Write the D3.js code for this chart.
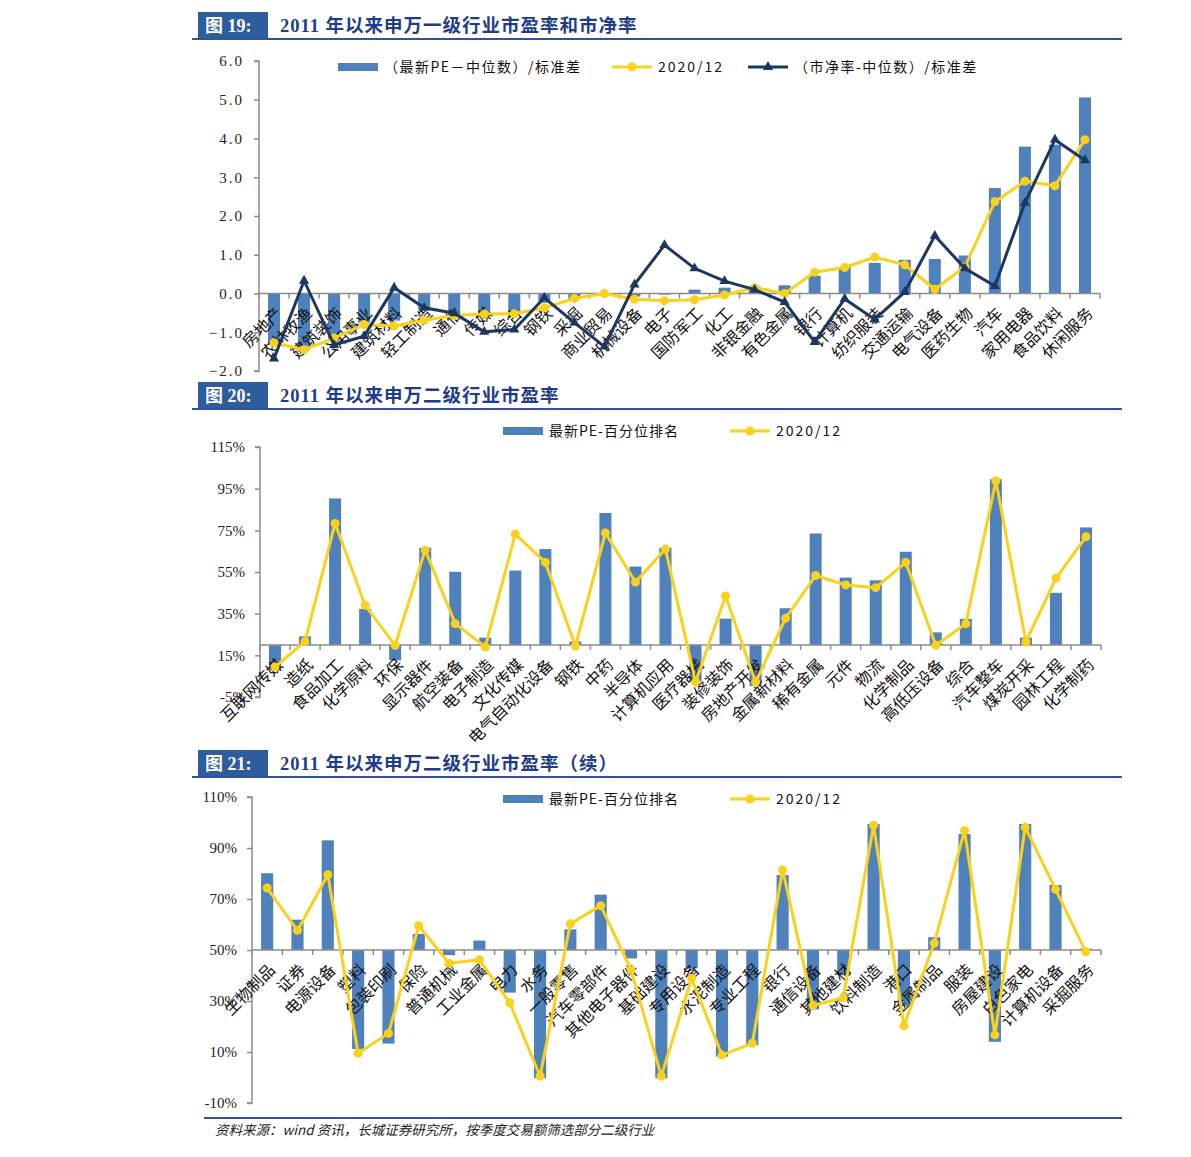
<!DOCTYPE html>
<html><head><meta charset="utf-8">
<script src="https://cdn.jsdelivr.net/npm/d3@7"></script>
<style>
body{margin:0;background:#fff;}
svg{display:block;}
</style></head>
<body>
<svg id="c" width="1191" height="1157"></svg>
<script>
// ---------- DATA ----------
const cat1 = ["房地产","农林牧渔","建筑装饰","公用事业","建筑材料","轻工制造","通信","传媒","综合","钢铁","采掘","商业贸易","机械设备","电子","国防军工","化工","非银金融","有色金属","银行","计算机","纺织服装","交通运输","电气设备","医药生物","汽车","家用电器","食品饮料","休闲服务"];
const pe1 = [-1.33,-1.36,-1.22,-0.75,-0.70,-0.42,-0.55,-0.58,-0.50,-0.24,-0.14,-0.05,-0.08,-0.03,0.10,0.15,0.18,0.21,0.46,0.68,0.79,0.87,0.89,0.98,2.72,3.79,3.84,5.06];
const pe1_2020 = [-1.27,-1.45,-1.15,-0.80,-0.84,-0.69,-0.57,-0.53,-0.52,-0.37,-0.13,0.00,-0.15,-0.19,-0.16,-0.04,0.15,0.00,0.55,0.67,0.94,0.74,0.11,0.69,2.37,2.90,2.78,3.97];
const pb1 = [-1.68,0.33,-1.33,-1.10,0.15,-0.37,-0.51,-0.99,-0.93,-0.11,-0.75,-1.37,0.23,1.25,0.65,0.32,0.10,-0.22,-1.25,-0.14,-0.67,0.04,1.49,0.65,0.19,2.34,3.97,3.44];
const ticks1 = [-2,-1,0,1,2,3,4,5,6];

const cat2 = ["互联网传媒","造纸","食品加工","化学原料","环保","显示器件","航空装备","电子制造","文化传媒","电气自动化设备","钢铁","中药","半导体","计算机应用","医疗器械","装修装饰","房地产开发","金属新材料","稀有金属","元件","物流","化学制品","高低压设备","综合","汽车整车","煤炭开采","园林工程","化学制药"];
const pct2 = [7.8,24.1,90.3,37.3,12.6,66.6,55.1,23.5,55.7,66.0,21.6,83.3,57.6,66.6,2.5,32.6,0.3,37.6,73.5,52.3,51.0,64.7,26.0,32.5,99.5,23.5,45.0,76.4];
const pct2_2020 = [9.4,21.7,78.3,39.0,19.8,65.5,30.2,19.0,73.2,59.6,19.5,73.7,50.2,66.0,2.2,43.5,2.2,32.8,53.3,48.8,47.5,59.6,19.8,30.2,98.8,21.4,52.0,71.9];
const ticks2 = [-5,15,35,55,75,95,115];

const cat3 = ["生物制品","证券","电源设备","塑料","包装印刷","保险","普通机械","工业金属","电力","水务","一般零售","汽车零部件","其他电子器件","基础建设","专用设备","水泥制造","专业工程","银行","通信设备","其他建材","饮料制造","港口","金属制品","服装","房屋建设","白色家电","计算机设备","采掘服务"];
const pct3 = [80.1,61.9,93.0,11.2,13.3,56.3,48.0,53.7,33.3,-0.3,58.1,71.7,46.7,-0.3,42.8,8.2,12.7,79.4,26.7,40.2,99.4,28.0,55.0,95.5,14.0,99.4,75.5,50.5];
const pct3_2020 = [74.3,57.7,79.5,9.5,17.3,59.5,44.8,46.1,29.3,0.6,60.3,67.4,42.2,0.6,38.9,8.8,13.4,81.4,28.2,31.3,98.9,20.3,52.6,96.8,16.7,98.1,73.8,49.3];
const ticks3 = [-10,10,30,50,70,90,110];

// ---------- STYLE ----------
const BLUE = "#4F81BD", YEL = "#FAD11B", NAVY = "#1B3762", AX = "#8C8C8C", HEAD = "#2E5D9E", TITLE = "#1F3C88";
const LAT = "'Liberation Serif','Noto Sans CJK SC',serif";
const CJK = "'Noto Sans CJK SC','Noto Sans',sans-serif";

const svg = d3.select("#c");

function header(y0, label, title){
  const g = svg.append("g");
  g.append("rect").attr("x",198).attr("y",y0).attr("width",70).attr("height",26).attr("fill",HEAD);
  g.append("text").attr("x",205).attr("y",y0+20).attr("fill","#fff").attr("font-family",LAT)
    .attr("font-weight","bold").attr("font-size",18).text(label);
  g.append("text").attr("x",280).attr("y",y0+20).attr("fill",TITLE).attr("font-family",LAT)
    .attr("font-weight","bold").attr("font-size",18.5).attr("letter-spacing",1).text(title);
  g.append("line").attr("x1",192).attr("x2",1122).attr("y1",y0+27).attr("y2",y0+27)
    .attr("stroke","#2F5597").attr("stroke-width",2);
}

function chart(cfg){
  const g = svg.append("g");
  const x = d3.scaleBand().domain(cfg.cats).range([cfg.x0,cfg.x1]).paddingInner(0.6).paddingOuter(0.3);
  const y = d3.scaleLinear().domain(cfg.domain).range([cfg.y1,cfg.y0]);
  const step = x.step();
  const cx = c => x(c) + x.bandwidth()/2;
  const by = y(cfg.base);

  // y axis
  const ya = g.append("g").attr("transform",`translate(${cfg.x0},0)`)
    .call(d3.axisLeft(y).tickValues(cfg.ticks).tickSize(5).tickPadding(10).tickFormat(cfg.fmt));
  ya.select(".domain").attr("stroke",AX).attr("stroke-width",1.5).attr("d",`M-5,${cfg.y1}H0V${cfg.y0}H-5`);
  ya.selectAll(".tick line").attr("stroke",AX).attr("stroke-width",1.5);
  ya.selectAll(".tick text").attr("font-family",LAT).attr("font-size",15).attr("fill","#222")
    .attr("letter-spacing",cfg.ls||0);

  // bars
  g.selectAll("rect.bar").data(cfg.cats).join("rect").attr("class","bar")
    .attr("x",c=>x(c)).attr("width",x.bandwidth())
    .attr("y",(c,i)=>Math.min(y(cfg.bars[i]),by))
    .attr("height",(c,i)=>Math.abs(y(cfg.bars[i])-by))
    .attr("fill",BLUE);

  // x axis line + ticks
  g.append("line").attr("x1",cfg.x0).attr("x2",cfg.x1).attr("y1",by).attr("y2",by)
    .attr("stroke",AX).attr("stroke-width",1.5);
  g.selectAll("line.xt").data(d3.range(cfg.cats.length+1)).join("line").attr("class","xt")
    .attr("x1",i=>cfg.x0+i*step).attr("x2",i=>cfg.x0+i*step).attr("y1",by).attr("y2",by+5)
    .attr("stroke",AX).attr("stroke-width",1.5);

  // category labels
  g.selectAll("text.xl").data(cfg.cats).join("text").attr("class","xl")
    .attr("transform",c=>`translate(${cx(c)+9},${by+21}) rotate(-45)`)
    .attr("text-anchor","end").attr("font-family",CJK).attr("font-size",16).attr("fill","#111")
    .text(c=>c);

  // lines
  cfg.lines.forEach(L=>{
    const line = d3.line().x((v,i)=>cx(cfg.cats[i])).y(v=>y(v));
    g.append("path").datum(L.values).attr("d",line).attr("fill","none")
      .attr("stroke",L.color).attr("stroke-width",3).attr("stroke-linejoin","miter");
    if(L.marker==="circle"){
      g.selectAll(null).data(L.values).join("circle")
        .attr("cx",(v,i)=>cx(cfg.cats[i])).attr("cy",v=>y(v)).attr("r",4.5).attr("fill",L.color);
    } else {
      g.selectAll(null).data(L.values).join("path")
        .attr("d",d3.symbol(d3.symbolTriangle).size(45))
        .attr("transform",(v,i)=>`translate(${cx(cfg.cats[i])},${y(v)})`).attr("fill",L.color);
    }
  });

  // legend
  const lg = g.append("g").attr("font-family",CJK).attr("font-size",14).attr("fill","#111");
  cfg.legend.forEach(it=>{
    if(it.type==="bar"){
      lg.append("rect").attr("x",it.x).attr("y",cfg.ly-4).attr("width",40).attr("height",8).attr("fill",BLUE);
    } else {
      lg.append("line").attr("x1",it.x).attr("x2",it.x+40).attr("y1",cfg.ly).attr("y2",cfg.ly)
        .attr("stroke",it.color).attr("stroke-width",3);
      if(it.type==="circle") lg.append("circle").attr("cx",it.x+20).attr("cy",cfg.ly).attr("r",4.5).attr("fill",it.color);
      else lg.append("path").attr("d",d3.symbol(d3.symbolTriangle).size(45)).attr("transform",`translate(${it.x+20},${cfg.ly})`).attr("fill",it.color);
    }
    lg.append("text").attr("x",it.x+46).attr("y",cfg.ly+5).attr("letter-spacing",it.ls||1).text(it.label);
  });
}

header(12,"图 19:","2011 年以来申万一级行业市盈率和市净率");
chart({cats:cat1, bars:pe1, base:0, domain:[-2,6], x0:259, x1:1100, y0:61, y1:371, ticks:ticks1,
  fmt:d3.format(".1f"), ls:2,
  lines:[{values:pe1_2020,color:YEL,marker:"circle"},{values:pb1,color:NAVY,marker:"triangle"}],
  ly:67,
  legend:[{type:"bar",x:338,label:"（最新PE－中位数）/标准差",ls:1.5},
          {type:"circle",x:612,color:YEL,label:"2020/12",ls:2},
          {type:"triangle",x:748,color:NAVY,label:"（市净率-中位数）/标准差",ls:1.5}]});

header(382,"图 20:","2011 年以来申万二级行业市盈率");
chart({cats:cat2, bars:pct2, base:20, domain:[-5,115], x0:260, x1:1101, y0:447, y1:697, ticks:ticks2,
  fmt:d=>d+"%",
  lines:[{values:pct2_2020,color:YEL,marker:"circle"}],
  ly:431,
  legend:[{type:"bar",x:503,label:"最新PE-百分位排名",ls:1},{type:"circle",x:730,color:YEL,label:"2020/12",ls:2}]});

header(750,"图 21:","2011 年以来申万二级行业市盈率（续）");
chart({cats:cat3, bars:pct3, base:50, domain:[-10,110], x0:252, x1:1101, y0:797, y1:1103, ticks:ticks3,
  fmt:d=>d+"%",
  lines:[{values:pct3_2020,color:YEL,marker:"circle"}],
  ly:799,
  legend:[{type:"bar",x:503,label:"最新PE-百分位排名",ls:1},{type:"circle",x:730,color:YEL,label:"2020/12",ls:2}]});

svg.append("line").attr("x1",204).attr("x2",1122).attr("y1",1118).attr("y2",1118).attr("stroke","#2F5597").attr("stroke-width",2);
svg.append("text").attr("x",215).attr("y",1135).attr("font-family",CJK).attr("font-style","italic")
  .attr("font-size",13.5).attr("fill","#222").text("资料来源：wind 资讯，长城证券研究所，按季度交易额筛选部分二级行业");
</script>
</body></html>
